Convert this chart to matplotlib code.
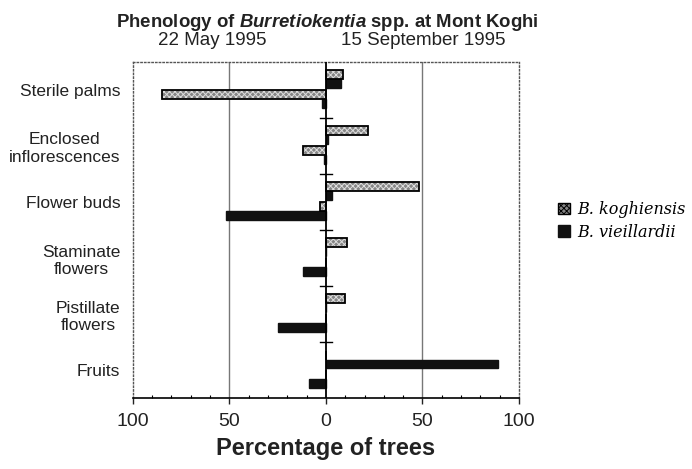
import numpy as np
import matplotlib
matplotlib.use("Agg")
import matplotlib.pyplot as plt
from matplotlib.patches import Patch
from matplotlib.ticker import FixedLocator, FuncFormatter

plt.rcParams['font.family'] = ['Liberation Sans', 'DejaVu Sans']
plt.rcParams['mathtext.fontset'] = 'custom'
plt.rcParams['mathtext.it'] = 'Liberation Sans:italic:bold'
plt.rcParams['hatch.linewidth'] = 0.7

# ---------------- Data (percent of trees) ----------------
categories = ['Sterile palms', 'Enclosed\ninflorescences', 'Flower buds',
              'Staminate\nflowers', 'Pistillate\nflowers', 'Fruits']
species = ['B. koghiensis', 'B. vieillardii']
# 15 September 1995 (right side)
sep_kog = [9, 22, 48, 11, 10, 0]
sep_vie = [8, 1, 3, 0, 0, 89]
# 22 May 1995 (left side)
may_kog = [85, 12, 3, 0, 0, 0]
may_vie = [2, 1, 52, 12, 25, 9]
xticks = [-100, -50, 0, 50, 100]

# ---------------- Figure ----------------
fig = plt.figure(figsize=(6.92, 4.69), dpi=100)
ax = fig.add_axes([0.192, 0.151, 0.558, 0.717])

y = np.arange(len(categories))
h = 0.16
KOG_FACE = '#858585'

def kog_bar(ypos, vals):
    # stippled fill, then black outline
    ax.barh(ypos, vals, height=h, color=KOG_FACE, hatch='xxxxxx',
            edgecolor='#dddddd', linewidth=0, zorder=3)
    ax.barh(ypos, vals, height=h, facecolor='none',
            edgecolor='black', linewidth=1.3, zorder=4)

def vie_bar(ypos, vals):
    ax.barh(ypos, vals, height=h, color='#111111',
            edgecolor='#111111', linewidth=1.0, zorder=3)

kog_bar(y - 0.27, sep_kog)
vie_bar(y - 0.11, sep_vie)
kog_bar(y + 0.08, -np.array(may_kog))
vie_bar(y + 0.24, -np.array(may_vie))

# grid lines at +-50 and centre line
for gx in (-50, 50):
    ax.axvline(gx, color='#777777', lw=1.0, zorder=1)
ax.axvline(0, color='black', lw=1.3, zorder=5)
# small separator ticks on the centre line
for b in y[:-1] + 0.5:
    ax.plot([-3, 3], [b, b], color='black', lw=1.0, zorder=5)

ax.set_xlim(-100, 100)
ax.set_ylim(len(categories) - 0.5, -0.5)
ax.set_yticks(y)
ax.set_yticklabels(categories, fontsize=12.5, color='#222222',
                   multialignment='center')
ax.tick_params(axis='y', length=0, pad=9)

ax.xaxis.set_major_locator(FixedLocator(xticks))
ax.xaxis.set_major_formatter(FuncFormatter(lambda v, p: f"{abs(v):g}"))
ax.xaxis.set_minor_locator(FixedLocator(np.arange(-90, 100, 10)))
ax.tick_params(axis='x', which='major', direction='out', length=4,
               width=1.0, labelsize=14, pad=7, colors='#222222')
ax.tick_params(axis='x', which='minor', direction='in', length=2, width=0.8)

for s in ('top', 'right', 'left'):
    ax.spines[s].set_linestyle(':')
    ax.spines[s].set_linewidth(1.0)
    ax.spines[s].set_color('#555555')
ax.spines['bottom'].set_linewidth(1.2)

ax.set_xlabel('Percentage of trees', fontsize=17, fontweight='bold',
              color='#222222', labelpad=5)

# ---------------- Titles ----------------
fig.text(0.473, 0.942, r'Phenology of $\it{Burretiokentia}$ spp. at Mont Koghi',
         ha='center', va='baseline', fontsize=13.4, fontweight='bold',
         color='#222222')
fig.text(0.306, 0.905, '22 May 1995', ha='center', va='baseline',
         fontsize=13.5, color='#222222')
fig.text(0.612, 0.905, '15 September 1995', ha='center', va='baseline',
         fontsize=13.5, color='#222222')

# ---------------- Legend ----------------
handles = [Patch(facecolor=KOG_FACE, hatch='xxxxxx', edgecolor='black', lw=1.0),
           Patch(facecolor='#111111', edgecolor='#111111')]
leg = fig.legend(handles, species, loc='upper left',
                 bbox_to_anchor=(0.797, 0.585), frameon=False,
                 handlelength=0.75, handleheight=0.75, handletextpad=0.45,
                 labelspacing=0.35, borderaxespad=0,
                 prop={'family': 'DejaVu Serif', 'style': 'italic', 'size': 11.5})

fig.savefig('out.png', dpi=100)
